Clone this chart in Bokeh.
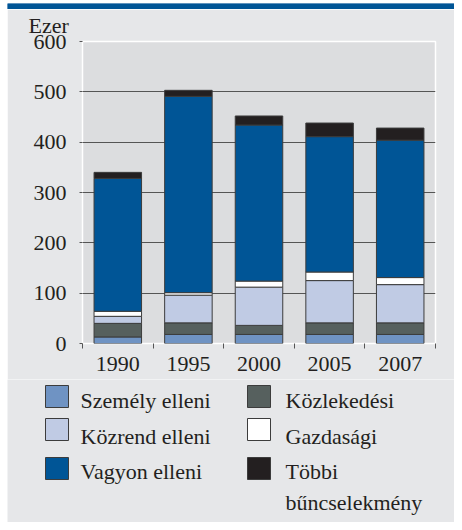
from bokeh.plotting import figure
from bokeh.layouts import column, row
from bokeh.models import Range1d, FixedTicker, ColumnDataSource, Spacer
from bokeh.core.properties import value
from bokeh.embed import file_html
from bokeh.resources import INLINE

years = ["1990", "1995", "2000", "2005", "2007"]
szemely = [13, 18, 18, 18, 18]
kozlekedesi = [27, 23, 18, 23, 23]
kozrend = [14, 55, 76, 84, 76]
gazdasagi = [10, 5, 12, 17, 14]
vagyon = [264, 390, 310, 269, 273]
tobbi = [12, 12, 18, 27, 24]

series_names = ["Személy elleni", "Közlekedési", "Közrend elleni",
                "Gazdasági", "Vagyon elleni", "Többi\nbűncselekmény"]
colors = ["#6f93c3", "#56605e", "#c0cbe4", "#ffffff", "#005596", "#231f20"]
y_ticks = [0, 100, 200, 300, 400, 500, 600]
unit_label = "Ezer"

FONT = "Liberation Serif"
TXT = "#231f20"
BG = "#e6e7e9"
BAND = "#005596"
FS = "22px"

W = 447          # panel width (after 7px white strip)
H_BAND, H_CHART, H_LEG = 9, 370, 143


def bare(fig):
    fig.axis.visible = False
    fig.grid.visible = False
    return fig


# header: blue band
band = bare(figure(width=W, height=H_BAND, toolbar_location=None, output_backend="svg",
                   x_range=Range1d(0, 1), y_range=Range1d(0, 1), min_border=0,
                   background_fill_color=BAND, border_fill_color=BAND,
                   outline_line_color=None, frame_align=False))
band.quad(left=[0], right=[1], top=[1], bottom=[0], fill_color=BAND, line_color=None)

# main chart
xs = [i + 0.5 for i in range(len(years))]
keys = ["szemely", "kozlekedesi", "kozrend", "gazdasagi", "vagyon", "tobbi"]
src = ColumnDataSource(dict(x=xs, szemely=szemely, kozlekedesi=kozlekedesi,
                            kozrend=kozrend, gazdasagi=gazdasagi,
                            vagyon=vagyon, tobbi=tobbi))

p = figure(width=W, height=H_CHART, toolbar_location=None, output_backend="svg",
           x_range=Range1d(0, len(years)), y_range=Range1d(0, 600),
           min_border_left=75, min_border_right=19, min_border_top=32,
           min_border_bottom=36, frame_align=False,
           background_fill_color="#dcdddf", border_fill_color=BG,
           outline_line_color="white", outline_line_width=1.5)

p.title.text = unit_label
p.title.align = "left"
p.title.offset = -54
p.title.vertical_align = "top"
p.title.standoff = 4
p.title.text_font = FONT
p.title.text_font_size = FS
p.title.text_font_style = "normal"
p.title.text_color = TXT

p.vbar_stack(keys, x="x", width=0.673, color=colors, line_color="#3c3c3c",
             line_width=1, source=src)

p.xgrid.visible = False
p.ygrid.ticker = FixedTicker(ticks=y_ticks[1:-1])
p.ygrid.grid_line_color = "#555555"
p.ygrid.grid_line_width = 1
p.ygrid.level = "underlay"

p.yaxis.ticker = FixedTicker(ticks=y_ticks)
p.yaxis.axis_line_color = None
p.yaxis.major_tick_out = 3
p.yaxis.major_tick_in = 0
p.yaxis.major_tick_line_color = "#555555"
p.yaxis.minor_tick_line_color = None
p.yaxis.major_label_standoff = 13
p.yaxis.major_label_text_font = FONT
p.yaxis.major_label_text_font_size = FS
p.yaxis.major_label_text_color = TXT

p.xaxis.ticker = FixedTicker(ticks=xs, minor_ticks=list(range(len(years) + 1)))
p.xaxis.major_label_overrides = {x: y for x, y in zip(xs, years)}
p.xaxis.axis_line_color = None
p.xaxis.major_tick_line_color = None
p.xaxis.major_tick_out = 0
p.xaxis.major_tick_in = 0
p.xaxis.minor_tick_line_color = "#555555"
p.xaxis.minor_tick_out = 5
p.xaxis.minor_tick_in = 0
p.xaxis.major_label_standoff = 8
p.xaxis.major_label_text_font = FONT
p.xaxis.major_label_text_font_size = FS
p.xaxis.major_label_text_color = TXT

# legend panel (pixel coordinates inside the panel)
leg = bare(figure(width=W, height=H_LEG, toolbar_location=None, output_backend="svg",
                  x_range=Range1d(0, W), y_range=Range1d(H_LEG, 0), min_border=0,
                  background_fill_color=BG, border_fill_color=BG,
                  outline_line_color=None, frame_align=False))

col_sq = [38, 240]
col_tx = [73, 278]
row_top = [6, 39, 78]
row_base = [21.3, 56.7, 92]
line_gap = 31.3
SQ_W, SQ_H = 23, 22

ql, qr, qt, qb, qc = [], [], [], [], []
tx, ty, tt = [], [], []
for i, (name, c) in enumerate(zip(series_names, colors)):
    r, cidx = i // 2, i % 2
    ql.append(col_sq[cidx]); qr.append(col_sq[cidx] + SQ_W)
    qt.append(row_top[r]); qb.append(row_top[r] + SQ_H); qc.append(c)
    for k, line in enumerate(name.split("\n")):
        tx.append(col_tx[cidx]); ty.append(row_base[r] + k * line_gap); tt.append(line)

leg.quad(left=ql, right=qr, top=qt, bottom=qb, fill_color=qc,
         line_color="#3c3c3c", line_width=1)
leg.text(x=tx, y=ty, text=tt, text_font=value(FONT), text_font_size=FS,
         text_color=TXT, text_baseline="alphabetic", text_align="left")

layout = row(Spacer(width=7, height=H_BAND + H_CHART + H_LEG),
             column(band, p, leg, spacing=0), spacing=0)

open("out.html", "w").write(file_html(layout, INLINE))
